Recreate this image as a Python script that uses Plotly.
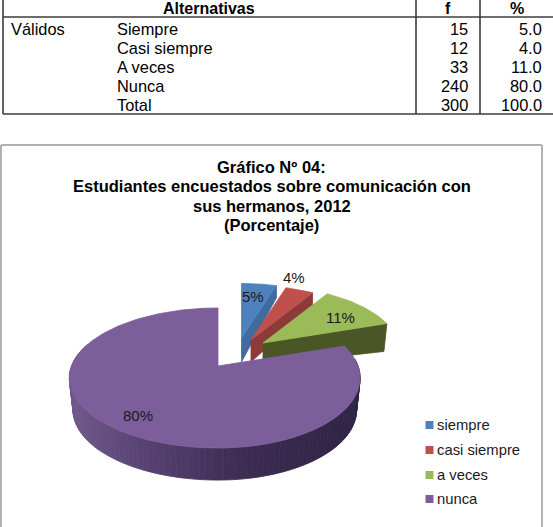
import math
import plotly.graph_objects as go

# Frequency table
header = ["Alternativas", "f", "%"]
group_label = "Válidos"
rows = ["Siempre", "Casi siempre", "A veces", "Nunca", "Total"]
freq = [15, 12, 33, 240, 300]
pct = [5.0, 4.0, 11.0, 80.0, 100.0]

# Pie series
categories = ["siempre", "casi siempre", "a veces", "nunca"]
shares = [5, 4, 11, 80]
title_lines = [
    "Gráfico Nº 04:",
    "Estudiantes encuestados sobre comunicación con",
    "sus hermanos, 2012",
    "(Porcentaje)",
]

FONT = "Liberation Sans"
W, H = 553, 527
TOP_COLORS = ["#4f81bd", "#c0504d", "#9bbb59", "#7c5f9a"]
SIDE_COLORS = ["#3f6b9f", "#8c3b39", "#4a5626", None]
TEXT = "#1a1a1a"

# Projection of the tilted disc onto the page
CX, CY = 218, 366
RX_LEFT, RX_RIGHT, RY, PERSP = 146.5, 140, 68, 0.1716
# Slice displacement: (dx, dy, radius scale, cut-face depth at rim, at apex, rim inset)
EXPLODE = [
    (23.5, -28, 0.94, 12, 24, 0),
    (33, -26, 0.94, 13, 22, 0),
    (45, -23, 0.98, 28, 22, 3),
    (0, 0, 1.0, 0, 0, 0),
]
RIM_DEPTH = 32
RIM_INSET = 0.975
RIM_STOPS = [(69, (112, 88, 140)), (150, (86, 65, 112)), (240, (62, 45, 84)), (360, (46, 36, 68))]


def project(theta_deg, r=1.0, ox=CX, oy=CY, scale=1.0):
    t = math.radians(theta_deg)
    u, v = r * math.sin(t), r * math.cos(t)
    p = 1 / (1 + PERSP * v)
    rx = RX_RIGHT if u >= 0 else RX_LEFT
    return ox + scale * rx * u * p, oy - scale * RY * v * p


def rim_color(x):
    for (x0, c0), (x1, c1) in zip(RIM_STOPS, RIM_STOPS[1:]):
        if x <= x1:
            k = max(0, (x - x0) / (x1 - x0))
            return "rgb(%d,%d,%d)" % tuple(a + k * (b - a) for a, b in zip(c0, c1))
    return "rgb(%d,%d,%d)" % RIM_STOPS[-1][1]


def polygon(xs, ys, color):
    return go.Scatter(
        x=xs, y=ys, mode="lines", fill="toself", fillcolor=color,
        line=dict(color=color, width=0.8), hoverinfo="skip", showlegend=False,
    )


fig = go.Figure()

# Angular extent of every slice, clockwise from twelve o'clock
total = sum(shares)
starts, running = [], 0.0
for s in shares:
    starts.append(running)
    running += 360.0 * s / total
ends = starts[1:] + [360.0]

# Exploded slices, back to front
for i in range(3):
    dx, dy, sc, d_rim, d_apex, inset = EXPLODE[i]
    ox, oy = CX + dx, CY + dy
    ex, ey = project(ends[i], 1, ox, oy, sc)
    fig.add_trace(polygon(
        [ox, ex, ex - inset, ox, ox],
        [oy, ey, ey + d_rim, oy + d_apex, oy],
        SIDE_COLORS[i],
    ))
    n = 24
    arc = [starts[i] + (ends[i] - starts[i]) * k / n for k in range(n + 1)]
    pts = [project(a, 1, ox, oy, sc) for a in arc]
    fig.add_trace(polygon(
        [ox] + [p[0] for p in pts] + [ox],
        [oy] + [p[1] for p in pts] + [oy],
        TOP_COLORS[i],
    ))

# Shaded rim of the large slice, built from narrow facets
step = 2.0
a = 84.0
while a < 290.0:
    x0, y0 = project(a)
    x1, y1 = project(a + step)
    bx0 = CX + (x0 - CX) * RIM_INSET
    bx1 = CX + (x1 - CX) * RIM_INSET
    fig.add_trace(polygon(
        [x0, x1, bx1, bx0, x0],
        [y0, y1, y1 + RIM_DEPTH, y0 + RIM_DEPTH, y0],
        rim_color((x0 + x1) / 2),
    ))
    a += step

# Top face of the large slice
n = 240
arc = [starts[3] + (ends[3] - starts[3]) * k / n for k in range(n + 1)]
pts = [project(a) for a in arc]
fig.add_trace(polygon(
    [CX] + [p[0] for p in pts] + [CX],
    [CY] + [p[1] for p in pts] + [CY],
    TOP_COLORS[3],
))

# Legend swatches with their names
legend_y = [425, 450, 475, 499]
fig.add_trace(go.Scatter(
    x=[429.5] * 4, y=legend_y, mode="markers",
    marker=dict(symbol="square", size=8, color=TOP_COLORS[:4]),
    hoverinfo="skip", showlegend=False,
))

annotations = []


def put(text, x, y, anchor="left", size=16.4, bold=False, color=TEXT):
    annotations.append(dict(
        x=x, y=y, xref="x", yref="y", text=f"<b>{text}</b>" if bold else text,
        xanchor=anchor, yanchor="middle", showarrow=False, borderpad=0, borderwidth=0,
        font=dict(family=FONT, size=size, color=color),
    ))


# Percentage labels on the slices
label_pos = [(252.7, 296.7), (294, 277), (340, 317), (138, 415)]
for value, (lx, ly) in zip(shares, label_pos):
    put(f"{value}%", lx, ly, "center", 15)

for name, ly in zip(categories, legend_y):
    put(name, 437, ly, "left", 14.8)

# Chart title
for line, ly in zip(title_lines, [166.7, 186, 205.6, 225]):
    put(line, 271.6, ly, "center", 16.5, True, "#000000")

# Table text
put(header[0], 209, 8.3, "center", 16, True, "#000000")
put(header[1], 448, 8.3, "center", 16, True, "#000000")
put(header[2], 517, 8.3, "center", 16, True, "#000000")
put(group_label, 11, 29, "left", color="#000000")
row_y = [29, 47.7, 66.9, 86, 104.6]
for name, f, p, ly in zip(rows, freq, pct, row_y):
    put(name, 117, ly, "left", color="#000000")
    put(str(f), 468, ly, "right", color="#000000")
    put(f"{p:.1f}", 541.5, ly, "right", color="#000000")

# Rules of the table and the chart frame
rule = dict(color="#3c3c3c", width=1.6)
frame = dict(color="#b2b2b2", width=2)
shapes = [
    dict(type="line", x0=3, x1=553, y0=17, y1=17, line=rule),
    dict(type="line", x0=3, x1=553, y0=114, y1=114, line=rule),
    dict(type="line", x0=3, x1=3, y0=0, y1=114, line=rule),
    dict(type="line", x0=416, x1=416, y0=0, y1=114, line=rule),
    dict(type="line", x0=480, x1=480, y0=0, y1=114, line=rule),
    dict(type="line", x0=1, x1=542, y0=145, y1=145, line=frame),
    dict(type="line", x0=1, x1=1, y0=145, y1=527, line=frame),
    dict(type="line", x0=542, x1=542, y0=145, y1=527, line=frame),
]
shapes = [dict(s, xref="x", yref="y", layer="below") for s in shapes]

fig.update_layout(
    width=W, height=H, autosize=False,
    margin=dict(l=0, r=0, t=0, b=0),
    paper_bgcolor="white", plot_bgcolor="white",
    xaxis=dict(range=[0, W], visible=False, fixedrange=True),
    yaxis=dict(range=[H, 0], visible=False, fixedrange=True),
    annotations=annotations, shapes=shapes, showlegend=False,
)
fig.write_html("out.html", config=dict(displayModeBar=False))
